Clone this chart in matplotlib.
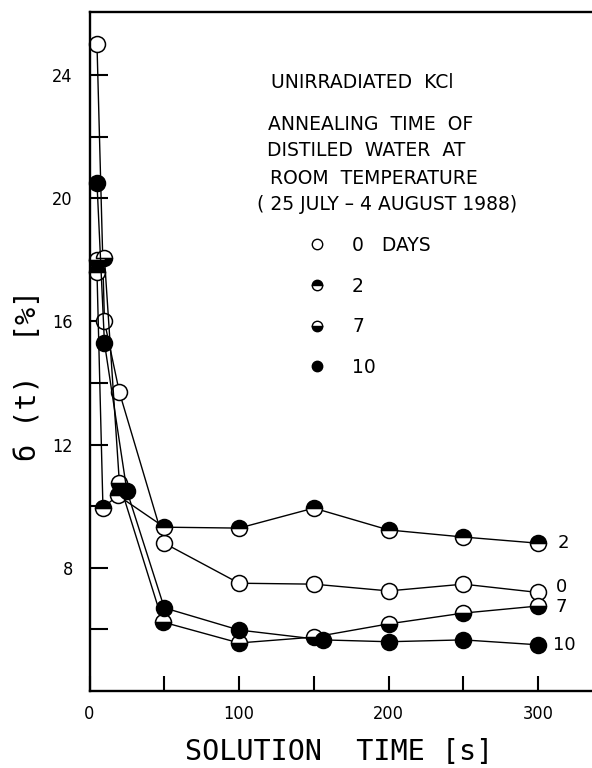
import matplotlib
matplotlib.use("Agg")
import matplotlib.pyplot as plt
from matplotlib.lines import Line2D

# ---------------- data ----------------
days_labels = ["0", "2", "7", "10"]
legend_texts = ["0   DAYS", "2", "7", "10"]

t_0 = [5, 10, 20, 50, 100, 150, 200, 250, 300]
s_0 = [25.0, 16.0, 13.7, 8.8, 7.5, 7.47, 7.25, 7.47, 7.2]

t_2 = [5, 9, 19, 50, 100, 150, 200, 250, 300]
s_2 = [17.6, 9.95, 10.35, 9.32, 9.29, 9.94, 9.23, 9.0, 8.8]

t_7 = [5, 10, 20, 49, 100, 150, 200, 250, 300]
s_7 = [18.0, 18.05, 10.75, 6.24, 5.56, 5.75, 6.18, 6.53, 6.76]

t_10 = [5, 10, 25, 50, 100, 156, 200, 250, 300]
s_10 = [20.5, 15.3, 10.5, 6.7, 5.98, 5.66, 5.6, 5.66, 5.5]

x_major = [0, 100, 200, 300]
x_minor = [50, 150, 250]
y_major = [8, 12, 16, 20, 24]
y_minor = [6, 10, 14, 18, 22]

title_lines = ["UNIRRADIATED  KCl",
               "ANNEALING  TIME  OF",
               "DISTILED  WATER  AT",
               "ROOM  TEMPERATURE",
               "( 25 JULY – 4 AUGUST 1988)"]

# ---------------- figure ----------------
W, H = 592, 768
fig = plt.figure(figsize=(W / 100, H / 100), dpi=100)
x0_px, y_top_px, y_bot_px = 89.5, 12, 691
ax = fig.add_axes([x0_px / W, 1 - y_bot_px / H, 1 - x0_px / W, (y_bot_px - y_top_px) / H])
ax.set_xlim(0, 336)
ax.set_ylim(4, 26.05)

for side in ["left", "bottom", "top"]:
    ax.spines[side].set_linewidth(1.7)
ax.spines["right"].set_visible(False)

tickfont = dict(family="DejaVu Sans", size=13, stretch="condensed")
ax.set_xticks(x_major)
ax.set_xticks(x_minor, minor=True)
ax.set_yticks(y_major)
ax.set_yticks(y_minor, minor=True)
ax.set_xticklabels([str(v) for v in x_major], fontdict=tickfont)
ax.set_yticklabels([str(v) for v in y_major], fontdict=tickfont)
ax.tick_params(axis="both", which="both", direction="in", width=1.5, top=False, right=False)
ax.tick_params(axis="y", which="both", length=13, pad=12)
ax.tick_params(axis="x", which="both", length=11, pad=10)

# ---------------- series ----------------
ms = 11.5
mew = 1.1
series = [
    (t_0, s_0, dict(marker="o", mfc="white", mec="black", fillstyle="full")),
    (t_2, s_2, dict(marker="o", mfc="black", mfcalt="white", mec="black", fillstyle="top")),
    (t_7, s_7, dict(marker="o", mfc="black", mfcalt="white", mec="black", fillstyle="bottom")),
    (t_10, s_10, dict(marker="o", mfc="black", mec="black", fillstyle="full")),
]
end_offsets = [(12.5, 4.0), (14, 0), (12.5, -1.0), (11, 0)]
for (tx, sy, st), lab, off in zip(series, days_labels, end_offsets):
    ax.plot(tx, sy, color="black", lw=1.0, ms=ms, mew=mew, clip_on=False, **st)
    ax.annotate(lab, xy=(tx[-1], sy[-1]), xytext=off, textcoords="offset points",
                ha="left", va="center", fontsize=13, family="DejaVu Sans")

# ---------------- text block ----------------
ys = [82, 124, 151, 178, 205]
xs = [271, 268, 267, 270, 257]
for txt, xp, yp in zip(title_lines, xs, ys):
    fig.text(xp / W, 1 - yp / H, txt, ha="left", va="center", fontsize=13.5, family="DejaVu Sans")

# ---------------- legend ----------------
handles = []
for (_, _, st) in series:
    handles.append(Line2D([], [], linestyle="none", ms=7.5, mew=1.0, **st))
leg = fig.legend(handles, legend_texts, loc="upper left",
                 bbox_to_anchor=(308 / W, 1 - 236 / H), frameon=False,
                 borderpad=0, borderaxespad=0, handlelength=1.0, handletextpad=1.35,
                 labelspacing=1.15, prop=dict(family="DejaVu Sans", size=13.5))

# ---------------- axis labels ----------------
labfont = dict(family="DejaVu Sans Mono", size=20.5)
ax.set_xlabel("SOLUTION  TIME [s]", fontdict=labfont, va="center")
ax.xaxis.set_label_coords((339 - x0_px) / (W - x0_px), (y_bot_px - 752) / (y_bot_px - y_top_px))
ax.set_ylabel("б (t)  [%]", fontdict=labfont, va="center")
ax.yaxis.set_label_coords((28 - x0_px) / (W - x0_px), (y_bot_px - 375) / (y_bot_px - y_top_px))

fig.savefig("out.png", dpi=100)
